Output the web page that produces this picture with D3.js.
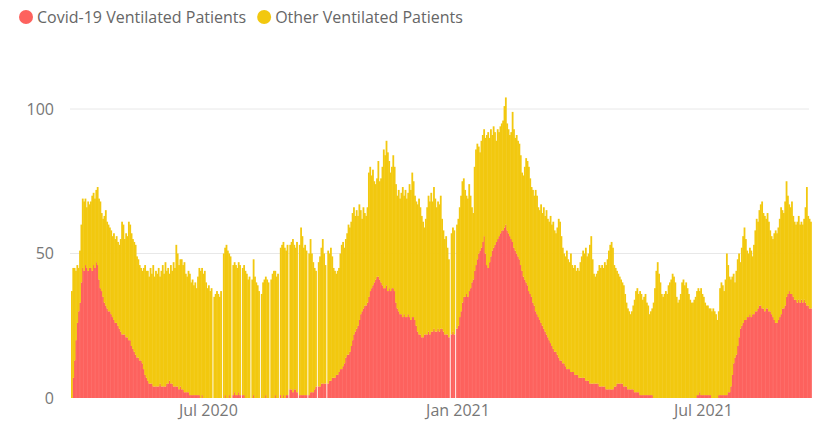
<!DOCTYPE html>
<html>
<head>
<meta charset="utf-8">
<script src="https://cdn.jsdelivr.net/npm/d3@7"></script>
<style>
  body { margin: 0; background: #ffffff; }
  svg { display: block; font-family: "Open Sans", "Segoe UI", sans-serif; }
</style>
</head>
<body>
<svg id="chart" width="837" height="423"></svg>
<script>
// Daily ventilated patients, one value per day starting on firstDay.
// null marks a day with no report.
const firstDay = "2020-03-22";

const seriesNames = ["Covid-19 Ventilated Patients", "Other Ventilated Patients"];
const seriesColors = ["#FD625E", "#F2C80F"];

const yTicks = [0, 50, 100];
const xTicks = ["2020-07-01", "2021-01-01", "2021-07-01"];

// All ventilated patients (Covid-19 + other), one row per week
const totalVentilated = [
  37,45,45,44,46,45,51,
  60,69,68,69,66,68,67,
  68,70,71,69,72,73,69,
  68,64,62,63,65,61,60,
  59,58,56,57,55,56,54,
  53,55,61,60,55,57,56,
  61,60,57,55,54,53,49,
  48,46,45,44,45,46,44,
  44,42,45,43,46,42,44,
  43,45,42,44,46,43,47,
  44,45,43,46,44,47,45,
  53,50,46,48,48,46,47,
  43,42,44,43,40,41,39,
  40,38,42,45,44,45,43,
  44,40,38,39,37,38,null,
  35,36,37,36,35,37,null,
  50,52,53,51,50,49,null,
  46,47,46,45,47,46,null,
  45,46,44,43,41,42,null,
  41,48,42,40,39,37,null,
  36,40,41,42,41,40,null,
  41,43,44,44,42,43,null,
  52,53,54,52,51,53,null,
  53,54,55,53,52,54,null,
  53,59,56,52,53,51,null,
  50,55,50,47,45,44,null,
  47,49,52,55,50,46,null,
  51,50,52,49,45,44,43,
  44,45,50,53,54,52,55,
  57,60,59,61,64,66,63,
  65,63,67,65,62,66,64,
  63,66,78,80,77,79,75,
  74,76,82,75,76,80,86,
  84,89,85,82,78,80,84,
  80,74,70,72,69,71,73,
  70,72,69,71,74,72,78,
  75,70,68,67,69,66,63,
  61,59,62,66,70,68,71,
  68,73,69,66,68,67,70,
  62,58,55,56,52,48,null,
  57,59,58,null,60,62,66,
  70,75,76,72,70,69,74,
  70,66,64,80,86,88,87,
  85,89,91,93,90,91,92,
  90,93,91,94,92,89,93,
  92,94,95,96,101,104,95,
  93,91,92,99,93,90,91,
  89,88,84,78,77,80,83,
  82,80,76,73,72,70,72,
  70,66,65,67,64,66,63,
  65,62,61,63,60,61,58,
  57,59,62,61,56,52,50,
  49,51,48,47,50,46,45,
  46,44,45,44,47,49,51,
  50,52,49,50,53,56,48,
  43,42,43,44,46,45,46,
  45,47,46,48,51,53,54,
  52,46,45,44,43,42,41,
  40,39,36,33,31,30,29,
  30,32,34,37,38,36,37,
  36,34,35,36,33,32,29,
  30,31,33,38,44,47,43,
  40,36,35,36,37,36,39,
  40,41,43,42,40,35,33,
  34,36,40,41,39,40,38,
  36,34,33,33,34,35,37,
  38,37,38,36,35,33,32,
  32,31,31,30,31,30,29,
  27,30,38,40,39,37,41,
  50,46,42,41,42,43,40,
  44,48,50,47,52,56,59,
  55,51,50,52,51,49,53,
  58,62,61,65,67,68,64,
  63,62,64,61,58,56,55,
  57,58,57,59,62,66,65,
  64,68,75,70,67,66,68,
  63,61,60,61,63,60,61,
  60,62,66,73,63,62,61
];

// Covid-19 ventilated patients, one row per week
const covidVentilated = [
  0,7,13,20,26,30,33,
  40,45,44,46,45,44,45,
  45,44,46,45,47,46,41,
  38,37,35,33,32,31,30,
  30,29,28,27,26,26,25,
  24,23,22,22,22,21,21,
  20,20,18,17,16,15,14,
  14,13,13,12,10,8,7,
  6,5,5,5,4,4,4,
  4,4,5,4,4,4,4,
  5,5,6,5,5,4,4,
  4,4,3,4,3,3,2,
  2,2,2,1,1,1,1,
  1,1,1,1,0,1,0,
  0,0,0,0,0,0,null,
  0,0,0,0,0,0,null,
  0,1,0,0,1,0,null,
  1,2,1,1,2,1,null,
  1,1,0,0,0,0,null,
  0,1,0,0,0,0,null,
  0,0,0,1,0,0,null,
  0,0,0,1,0,0,null,
  1,0,1,0,1,1,null,
  3,3,2,3,3,2,null,
  1,1,1,1,1,1,null,
  1,2,2,2,3,4,null,
  4,4,5,5,5,5,null,
  5,6,6,7,7,7,8,
  8,9,10,10,11,12,14,
  15,15,16,18,20,22,23,
  24,25,27,29,30,31,32,
  32,33,35,37,38,39,40,
  41,42,42,41,40,39,38,
  38,39,37,38,37,38,38,
  37,33,31,30,29,29,28,
  29,28,28,29,28,27,28,
  28,27,25,23,22,22,21,
  21,22,22,22,23,22,23,
  23,24,23,23,24,23,24,
  24,23,22,22,22,21,null,
  22,23,22,null,24,25,28,
  30,33,35,35,36,35,37,
  38,40,41,44,46,48,50,
  51,52,54,56,50,46,45,
  47,49,51,52,53,54,55,
  56,57,58,58,59,60,58,
  57,56,55,54,52,51,50,
  49,48,46,44,42,41,40,
  39,37,36,35,33,32,30,
  29,28,27,26,25,24,23,
  22,21,20,19,18,17,16,
  16,15,14,13,13,12,12,
  11,10,10,10,9,9,9,
  8,8,8,7,7,7,7,
  7,6,6,6,5,5,5,
  5,5,5,5,4,4,4,
  4,4,3,3,3,3,3,
  3,4,4,5,5,5,5,
  5,4,4,4,3,3,3,
  3,3,2,2,2,2,1,
  1,1,1,1,1,1,1,
  1,1,0,0,0,0,0,
  0,0,0,0,0,0,0,
  0,0,0,0,0,0,0,
  0,0,0,0,0,0,0,
  0,0,0,0,0,0,1,
  1,2,1,1,1,1,1,
  1,1,1,0,0,0,0,
  0,1,1,1,1,1,1,
  1,2,2,4,8,12,14,
  15,18,21,24,25,26,27,
  27,28,28,29,28,29,29,
  30,30,31,32,32,31,31,
  30,31,31,30,30,29,28,
  27,26,26,27,28,29,31,
  31,32,35,36,37,36,36,
  35,34,34,33,34,33,34,
  33,34,33,32,32,31,31
];

const svg = d3.select("#chart");
const start = d3.utcParse("%Y-%m-%d")(firstDay);

const rows = totalVentilated.map((t, i) => ({
  date: d3.utcDay.offset(start, i),
  covid: covidVentilated[i],
  other: t == null ? null : t - covidVentilated[i]
})).filter(d => d.other != null);

const x = d3.scaleUtc()
  .domain([start, d3.utcDay.offset(start, totalVentilated.length)])
  .range([71, 811.4]);
const y = d3.scaleLinear().domain([0, 100]).range([398, 109]);

// Gridlines
svg.append("g")
  .selectAll("line")
  .data(yTicks.filter(v => v > 0))
  .join("line")
  .attr("x1", 70).attr("x2", 809)
  .attr("y1", d => y(d)).attr("y2", d => y(d))
  .attr("stroke", "#e8e8e8").attr("stroke-width", 1);

// Stacked daily bars
const stacked = d3.stack().keys(["covid", "other"])(rows);
svg.append("g")
  .selectAll("g")
  .data(stacked)
  .join("g")
  .attr("fill", (s, i) => seriesColors[i])
  .selectAll("rect")
  .data(s => s)
  .join("rect")
  .attr("x", d => x(d.data.date))
  .attr("width", d => x(d3.utcDay.offset(d.data.date, 1)) - x(d.data.date) + 0.45)
  .attr("y", d => y(d[1]))
  .attr("height", d => Math.max(0, y(d[0]) - y(d[1])));

// Y axis labels
const yAxis = svg.append("g")
  .attr("transform", "translate(54,0)")
  .call(d3.axisLeft(y).tickValues(yTicks).tickSize(0).tickPadding(0));
yAxis.select(".domain").remove();
yAxis.selectAll("text")
  .attr("fill", "#777").attr("font-size", 16)
  .attr("font-family", "'Open Sans', sans-serif");

// X axis labels
const xAxis = svg.append("g")
  .attr("transform", "translate(0,403)")
  .call(d3.axisBottom(x)
    .tickValues(xTicks.map(s => d3.utcParse("%Y-%m-%d")(s)))
    .tickFormat(d3.utcFormat("%b %Y"))
    .tickSize(0).tickPadding(2));
xAxis.select(".domain").remove();
xAxis.selectAll("text")
  .attr("fill", "#777").attr("font-size", 16)
  .attr("font-family", "'Open Sans', sans-serif");

// Legend
const legend = svg.append("g").attr("transform", "translate(0,17)");
let lx = 26;
seriesNames.forEach((name, i) => {
  const item = legend.append("g").attr("transform", `translate(${lx},0)`);
  item.append("circle").attr("r", 7).attr("fill", seriesColors[i]);
  const t = item.append("text")
    .attr("x", 11).attr("dy", "0.35em")
    .attr("fill", "#666").attr("font-size", 16)
    .text(name);
  lx += 11 + t.node().getComputedTextLength() + 18;
});
</script>
</body>
</html>
